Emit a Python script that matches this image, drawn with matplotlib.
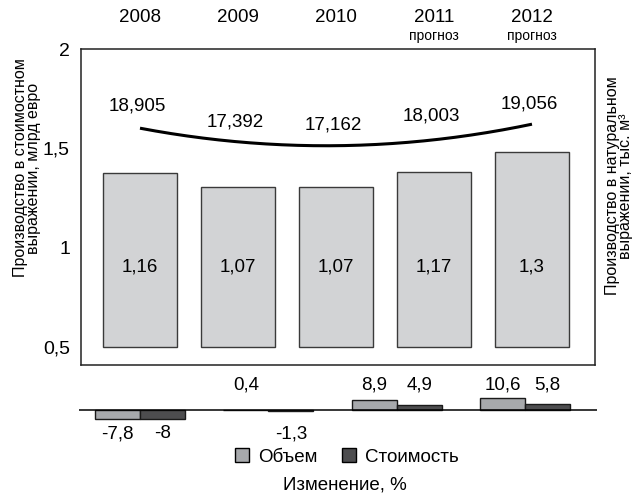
import numpy as np
import matplotlib
matplotlib.use("Agg")
import matplotlib.pyplot as plt
from matplotlib.patches import Patch
from matplotlib.transforms import blended_transform_factory

plt.rcParams['font.family'] = ['Liberation Sans', 'DejaVu Sans']

# --- data -------------------------------------------------------------
years = ["2008", "2009", "2010", "2011", "2012"]
year_notes = ["", "", "", "прогноз", "прогноз"]
value_bn_eur = [1.16, 1.07, 1.07, 1.17, 1.3]            # млрд евро
volume_k_m3 = [18.905, 17.392, 17.162, 18.003, 19.056]  # тыс. м3
left_ticks = [0.5, 1.0, 1.5, 2.0]
left_tick_labels = ["0,5", "1", "1,5", "2"]

change_volume = [-7.8, 0.4, 8.9, 10.6]   # Объем, %
change_value = [-8.0, -1.3, 4.9, 5.8]    # Стоимость, %


def ru(v, fmt="{:g}"):
    return fmt.format(v).replace(".", ",")


# --- style ------------------------------------------------------------
BAR_FILL = "#d2d3d5"
BAR_EDGE = "#3a3a3a"
LIGHT = "#a7a9ac"
DARK = "#4d4d4f"
FS = 13.5

W, H = 632, 496
fig = plt.figure(figsize=(W / 100, H / 100), dpi=100)


def px_rect(x0, y0, x1, y1):
    return [x0 / W, 1 - y1 / H, (x1 - x0) / W, (y1 - y0) / H]


x = np.arange(len(years))

# --- upper panel: value bars + volume trend ---------------------------
ax = fig.add_axes(px_rect(81, 49, 595, 365))
ax.set_xlim(-0.602, 4.643)
ax.set_ylim(0.41, 2.0)
ax.set_yticks(left_ticks)
ax.set_yticklabels(left_tick_labels, fontsize=14)
ax.set_xticks([])
ax.tick_params(axis="y", length=0, pad=8)
for s in ax.spines.values():
    s.set_linewidth(1.1)
    s.set_color("#222222")

ax_bar = ax.twinx()
ax_bar.set_ylim(-0.12, 1.987)
ax_bar.bar(x, value_bn_eur, width=0.765, color=BAR_FILL,
           edgecolor=BAR_EDGE, linewidth=1.0)
ax_bar.set_yticks([])
for s in ax_bar.spines.values():
    s.set_visible(False)

lab_tr = blended_transform_factory(ax.transData, ax.transAxes)
for xi, v in zip(x, value_bn_eur):
    ax.text(xi, 0.31, ru(v), transform=lab_tr, ha="center", va="center",
            fontsize=FS, zorder=5)
ax.set_zorder(ax_bar.get_zorder() + 1)
ax.patch.set_visible(False)

ax_line = ax.twinx()
ax_line.set_ylim(-2.7, 26.0)
ax_line.set_yticks([])
for s in ax_line.spines.values():
    s.set_visible(False)
coef = np.polyfit(x, volume_k_m3, 2)
xs = np.linspace(x[0], x[-1], 200)
ax_line.plot(xs, np.polyval(coef, xs), color="black", lw=2.2,
             solid_capstyle="butt")
for xi, v in zip(x, volume_k_m3):
    ax_line.annotate(ru(v, "{:.3f}"), (xi, v), xytext=(-2, 15.5),
                     textcoords="offset points", ha="center", va="center",
                     fontsize=FS)

for xi, yr, note in zip(x, years, year_notes):
    ax.text(xi, 1.101, yr, transform=lab_tr, ha="center", va="center",
            fontsize=FS)
    if note:
        ax.text(xi, 1.041, note, transform=lab_tr, ha="center",
                va="center", fontsize=10)

fig.text(27 / W, 1 - 168 / H,
         "Производство в стоимостном\nвыражении, млрд евро",
         rotation=90, ha="center", va="center", fontsize=11.5,
         linespacing=0.9, multialignment="center")
fig.text(619 / W, 1 - 186 / H,
         "Производство в натуральном\nвыражении, тыс. м³",
         rotation=90, ha="center", va="center", fontsize=11.5,
         linespacing=0.9, multialignment="center")

# --- lower panel: year-over-year changes ------------------------------
axc = fig.add_axes(px_rect(79, 375, 597, 445))
axc.set_xlim(-0.622, 4.663)
axc.set_ylim(-31.8, 31.8)
axc.axis("off")
axc.axhline(0, color="black", lw=1.1)

gx = np.arange(len(change_volume)) * 1.31
bw = 0.46
axc.bar(gx - bw / 2, change_volume, width=bw, color=LIGHT,
        edgecolor="#1a1a1a", linewidth=1.0)
axc.bar(gx + bw / 2, change_value, width=bw, color=DARK,
        edgecolor="#1a1a1a", linewidth=1.0)
for xs_, vals in ((gx - bw / 2, change_volume), (gx + bw / 2, change_value)):
    for xi, v in zip(xs_, vals):
        off = 18 if v >= 0 else -17
        axc.annotate(ru(v), (xi, 0), xytext=(0, off),
                     textcoords="offset points", ha="center", va="center",
                     fontsize=FS)

handles = [Patch(facecolor=LIGHT, edgecolor="black", lw=1.0),
           Patch(facecolor=DARK, edgecolor="black", lw=1.0)]
fig.legend(handles, ["Объем", "Стоимость"], loc="center",
           bbox_to_anchor=(347 / W, 1 - 457 / H), ncol=2, frameon=False,
           fontsize=FS, handlelength=0.75, handleheight=0.75,
           handletextpad=0.5, columnspacing=1.3, borderpad=0)
fig.text(345 / W, 1 - 485 / H, "Изменение, %", ha="center", va="center",
         fontsize=FS)

fig.savefig("out.png", dpi=100)
